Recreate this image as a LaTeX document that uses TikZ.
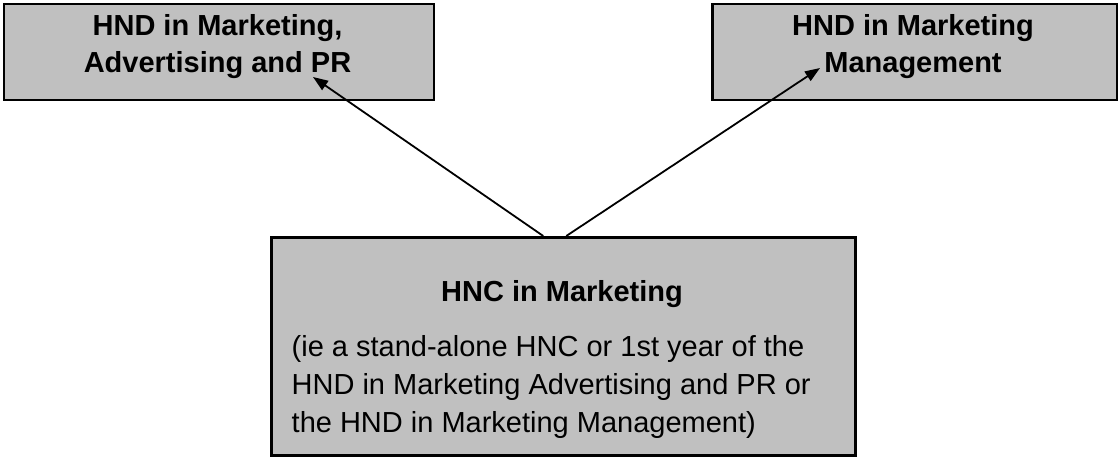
\documentclass[tikz,border=0pt]{standalone}
\usepackage{fontspec}
\setmainfont{Liberation Sans}
\usetikzlibrary{arrows.meta}
\definecolor{boxgray}{RGB}{192,192,192}
\tikzset{
 box/.style={draw=black, fill=boxgray, line width=2.5pt, inner sep=0pt, anchor=north west},
 titletext/.style={font=\fontsize{29}{37}\selectfont\bfseries, align=center, inner sep=0pt, anchor=north},
 bodytext/.style={font=\fontsize{29}{38}\selectfont, align=left, inner sep=0pt, anchor=north west},
 link/.style={line width=1.8pt, -{Triangle[length=15pt,width=11pt]}}
}
\begin{document}
\begin{tikzpicture}[x=1pt,y=-1pt]
\useasboundingbox (0,0) rectangle (1118,456);
\node[box, minimum width=430pt, minimum height=96pt] (hndA) at (2.5,2.5) {};
\node[box, minimum width=404.5pt, minimum height=96pt] (hndB) at (711,2.5) {};
\node[box, minimum width=584pt, minimum height=218pt] (hnc) at (270,236) {};
\node[titletext] (tA) at (217.5,14) {HND in Marketing,\\Advertising and PR};
\node[titletext] (tB) at (913,14) {HND in Marketing\\Management};
\node[titletext, anchor=base] (tC) at (562,301) {HNC in Marketing};
\node[bodytext] (bC) at (291.5,335) {(ie a stand-alone HNC or 1st year of the\\HND in Marketing Advertising and PR or\\the HND in Marketing Management)};
\coordinate (tipA) at (313,77);
\coordinate (tipB) at (820,68);
\draw[link] ([xshift=-20pt]hnc.north) -- (tipA);
\draw[link] ([xshift=3pt]hnc.north) -- (tipB);
\end{tikzpicture}
\end{document}
